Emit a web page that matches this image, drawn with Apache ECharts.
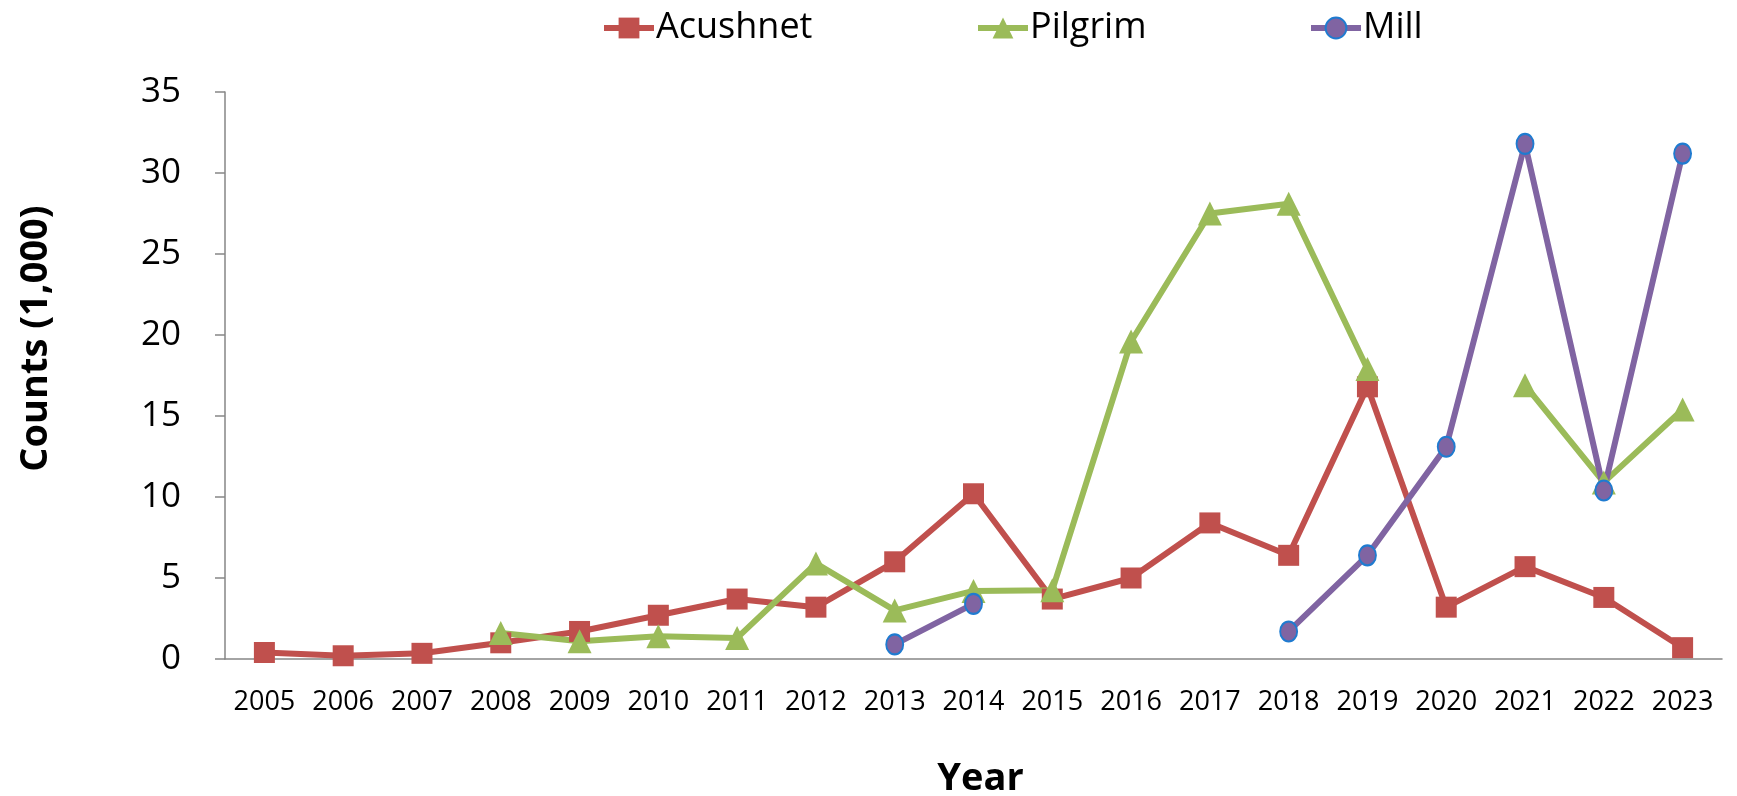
<!DOCTYPE html>
<html>
<head>
<meta charset="utf-8">
<style>
    html, body { margin: 0; padding: 0; background: #fff; }
    #chart { width: 1737px; height: 796px; }
</style>
<script src="https://cdn.jsdelivr.net/npm/echarts@6/dist/echarts.min.js"></script>
</head>
<body>
<div id="chart"></div>
<script>
    var years = ['2005', '2006', '2007', '2008', '2009', '2010', '2011', '2012', '2013', '2014',
        '2015', '2016', '2017', '2018', '2019', '2020', '2021', '2022', '2023']
    var acushnet = [0.4, 0.2, 0.35, 1.0, 1.7, 2.7, 3.7, 3.2, 6.0, 10.2,
        3.7, 5.0, 8.4, 6.4, 16.8, 3.2, 5.7, 3.8, 0.7]
    var pilgrim = [null, null, null, 1.6, 1.1, 1.4, 1.3, 5.9, 3.0, 4.2,
        4.25, 19.6, 27.5, 28.1, 17.9, null, 16.9, 10.9, 15.4]
    var mill = [null, null, null, null, null, null, null, null, 0.9, 3.4,
        null, null, null, 1.7, 6.4, 13.1, 31.8, 10.4, 31.2]

    var font = '"Open Sans", sans-serif'
    var axisColor = '#868686'

    function legendAt(name, left) {
        return {
            data: [name],
            top: 5,
            left: left,
            itemWidth: 50,
            itemHeight: 26,
            itemGap: 4,
            lineStyle: { width: 6 },
            textStyle: { fontFamily: font, fontSize: 36, color: '#000', padding: [0, 0, 0, -3] }
        }
    }

    var chart = echarts.init(document.getElementById('chart'), null, { renderer: 'canvas' })

    chart.setOption({
        animation: false,
        legend: [
            legendAt('Acushnet', 596),
            legendAt('Pilgrim', 970),
            legendAt('Mill', 1303)
        ],
        grid: {
            top: 92,
            right: 15,
            bottom: 137,
            left: 225,
            outerBoundsMode: 'none',
            containLabel: false
        },
        xAxis: {
            type: 'category',
            data: years,
            boundaryGap: true,
            name: 'Year',
            nameLocation: 'middle',
            nameGap: 101,
            nameTextStyle: { fontFamily: font, fontSize: 38, fontWeight: 'bold', color: '#000', padding: [0, 0, 0, 14] },
            axisLine: { lineStyle: { color: axisColor, width: 1.5 } },
            axisTick: { length: 10, lineStyle: { color: axisColor, width: 1.5 } },
            axisLabel: { fontFamily: font, fontSize: 27, color: '#000', margin: 30, interval: 0 }
        },
        yAxis: {
            type: 'value',
            min: 0,
            max: 35,
            interval: 5,
            name: 'Counts (1,000)',
            nameLocation: 'middle',
            nameGap: 170,
            nameRotate: 90,
            nameTextStyle: { fontFamily: font, fontSize: 38, fontWeight: 'bold', color: '#000', padding: [0, 0, 0, 74] },
            splitLine: { show: false },
            axisLine: { show: true, lineStyle: { color: axisColor, width: 1.5 } },
            axisTick: { show: true, length: 10, lineStyle: { color: axisColor, width: 1.5 } },
            axisLabel: { fontFamily: font, fontSize: 35, color: '#000', margin: 44 }
        },
        series: [{
            name: 'Acushnet',
            type: 'line',
            data: acushnet,
            symbol: 'rect',
            symbolSize: 21,
            lineStyle: { color: '#C0504D', width: 6 },
            itemStyle: { color: '#C0504D' }
        }, {
            name: 'Pilgrim',
            type: 'line',
            data: pilgrim,
            symbol: 'triangle',
            symbolSize: 24,
            lineStyle: { color: '#9BBB59', width: 6 },
            itemStyle: { color: '#9BBB59' }
        }, {
            name: 'Mill',
            type: 'line',
            data: mill,
            symbol: 'circle',
            symbolSize: [17, 20],
            lineStyle: { color: '#8064A2', width: 6 },
            itemStyle: { color: '#8064A2', borderColor: '#1F7BD0', borderWidth: 2 }
        }]
    })

    window.addEventListener('resize', () => {
        chart.resize()
    })
</script>
</body>
</html>
